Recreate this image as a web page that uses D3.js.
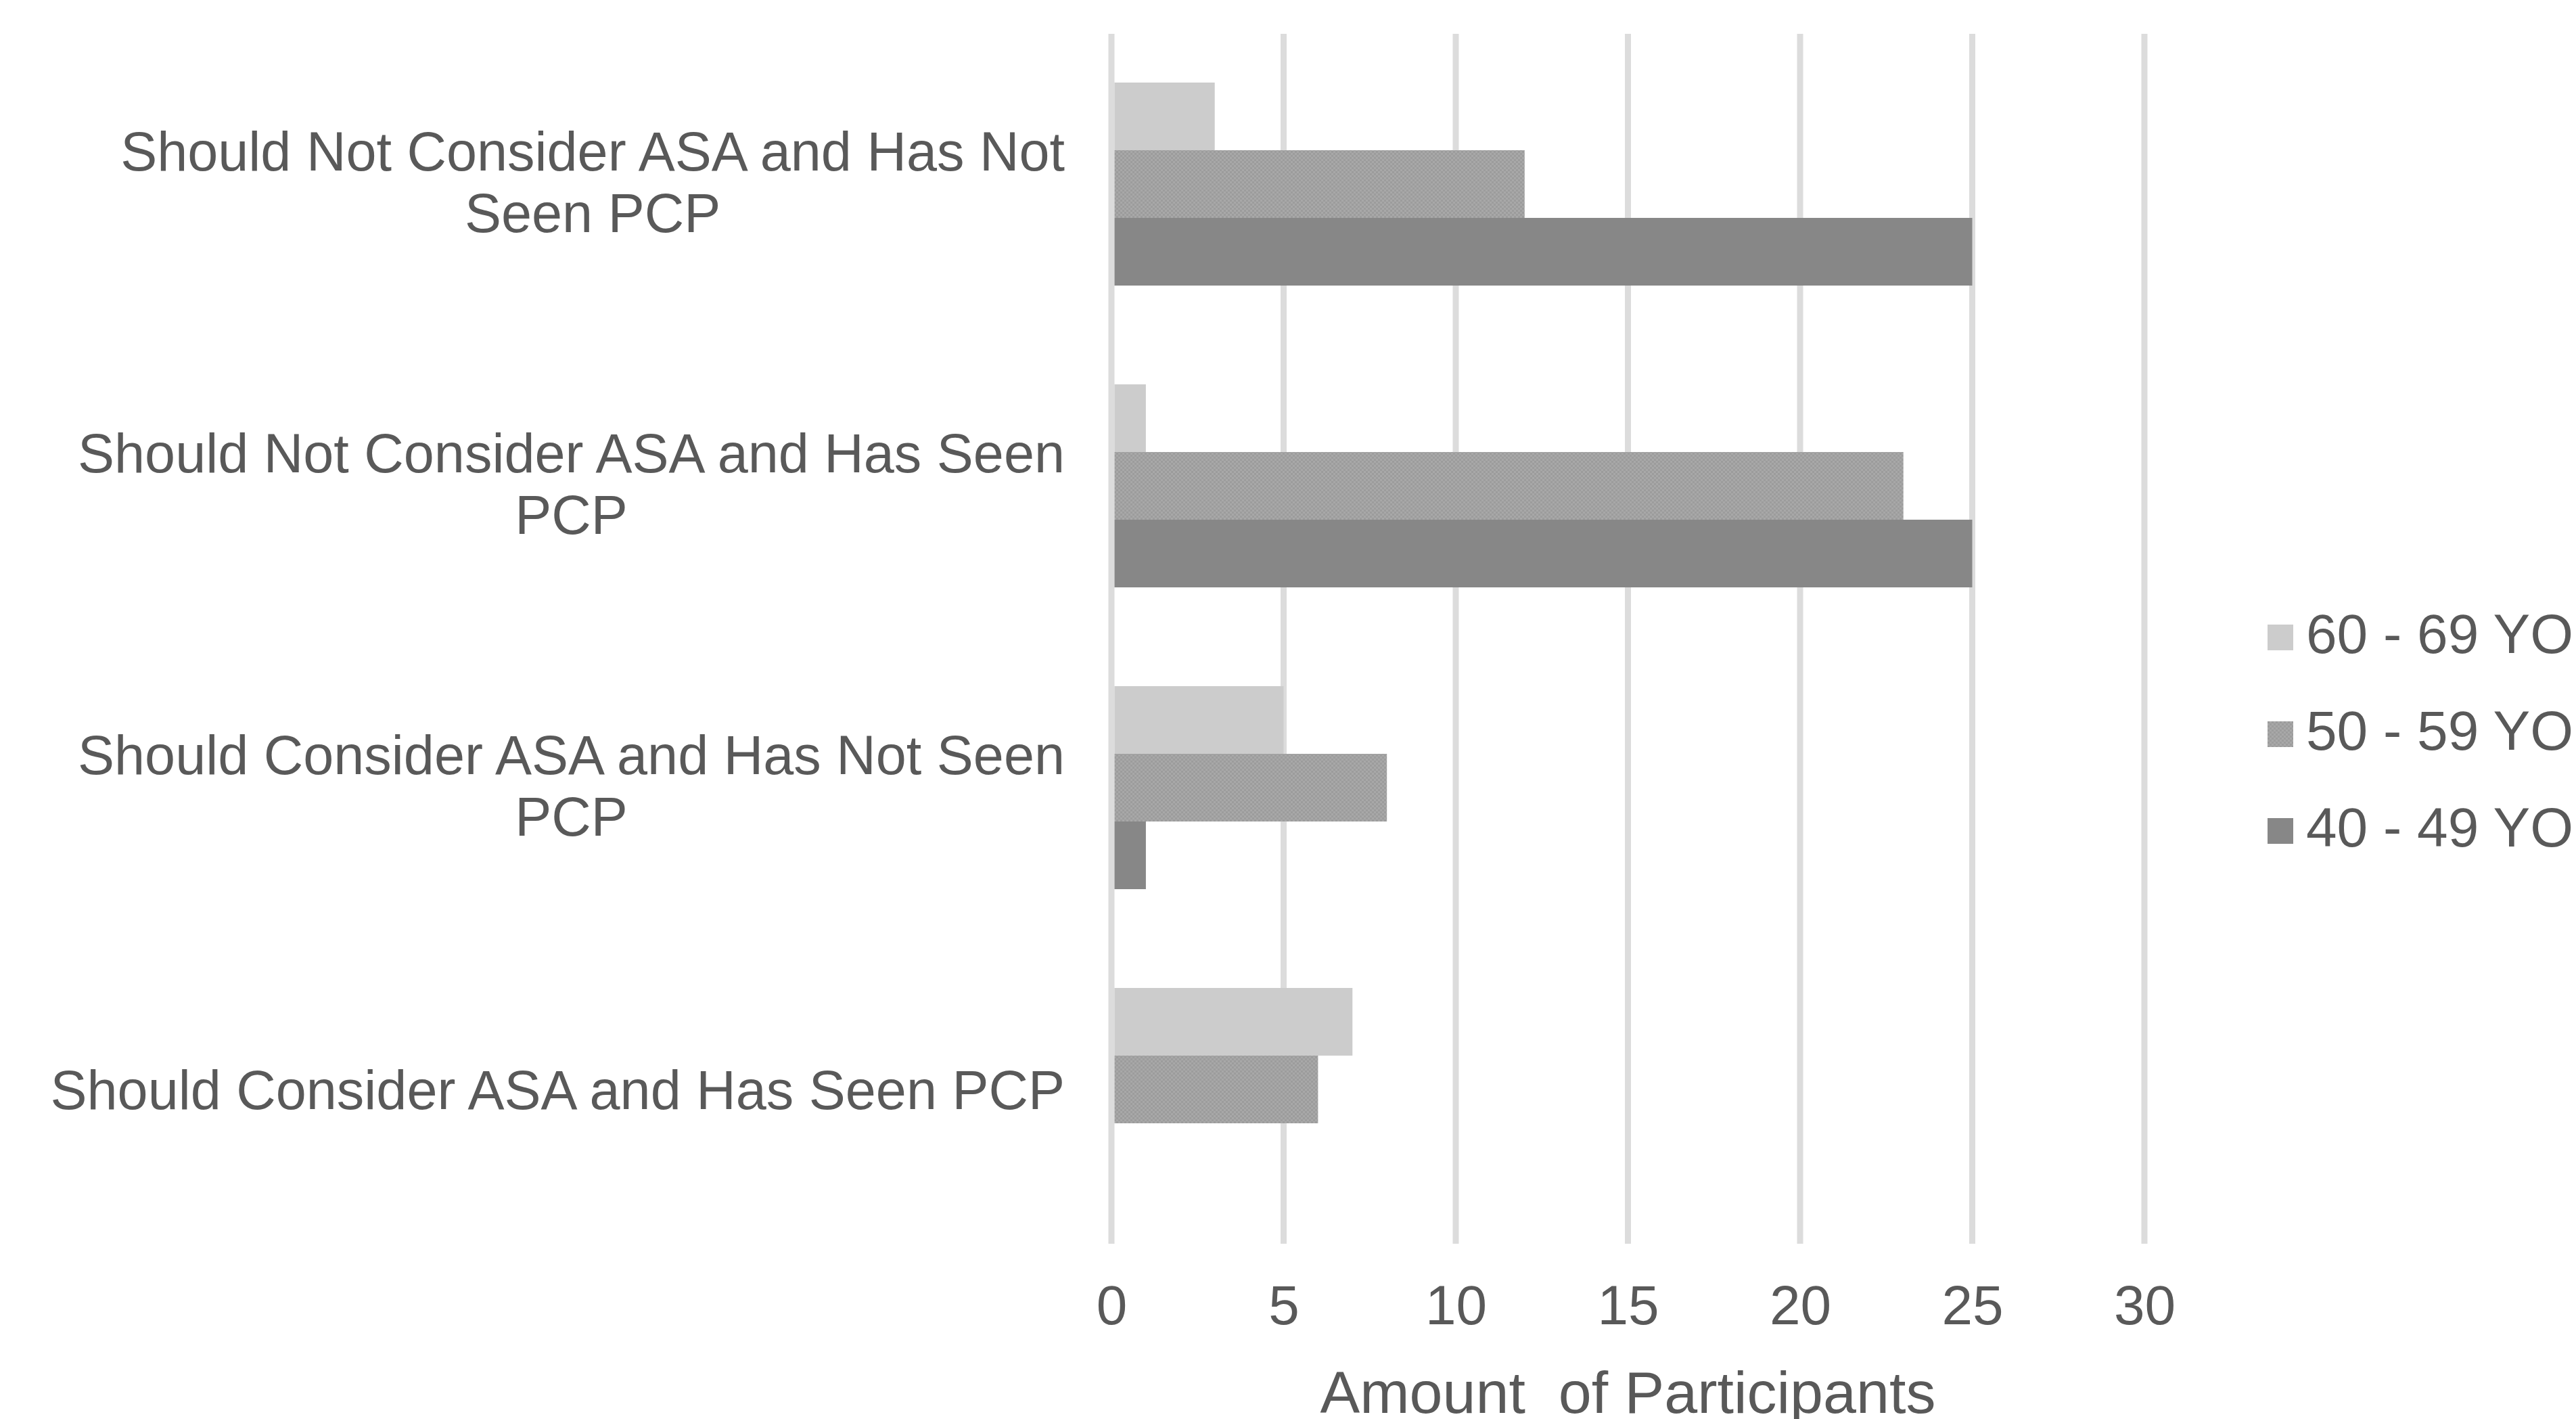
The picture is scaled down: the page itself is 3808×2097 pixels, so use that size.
<!DOCTYPE html>
<html>
<head>
<meta charset="utf-8">
<script src="https://cdn.jsdelivr.net/npm/d3@7"></script>
<style>
  html, body { margin: 0; padding: 0; background: #fff; }
  svg { display: block; font-family: "Liberation Sans", Arial, sans-serif; }
</style>
</head>
<body>
<div id="chart"></div>
<script>
// categories, top to bottom; each label is split into the lines shown
const categories = [
  "Should Not Consider ASA and Has Not Seen PCP",
  "Should Not Consider ASA and Has Seen PCP",
  "Should Consider ASA and Has Not Seen PCP",
  "Should Consider ASA and Has Seen PCP"
];
const categoryLines = [
  ["Should Not Consider ASA and Has Not", "Seen PCP"],
  ["Should Not Consider ASA and Has Seen", "PCP"],
  ["Should Consider ASA and Has Not Seen", "PCP"],
  ["Should Consider ASA and Has Seen PCP"]
];

const seriesNames = ["60 - 69 YO", "50 - 59 YO", "40 - 49 YO"];
const age60to69 = [3, 1, 5, 7];
const age50to59 = [12, 23, 8, 6];
const age40to49 = [25, 25, 1, 0];
const seriesValues = [age60to69, age50to59, age40to49];

const xTicks = [0, 5, 10, 15, 20, 25, 30];
const xTitle = "Amount  of Participants";

const W = 3808, H = 2097;
const textColor = "#595959";
const fills = ["#cccccc", "url(#checker)", "#878787"];

const svg = d3.select("#chart").append("svg")
  .attr("width", W)
  .attr("height", H);

// checker texture for the middle series
const pat = svg.append("defs").append("pattern")
  .attr("id", "checker")
  .attr("patternUnits", "userSpaceOnUse")
  .attr("width", 6).attr("height", 6);
pat.append("rect").attr("width", 6).attr("height", 6).attr("fill", "#a8a8a8");
pat.append("rect").attr("width", 3).attr("height", 3).attr("fill", "#9c9c9c");
pat.append("rect").attr("x", 3).attr("y", 3).attr("width", 3).attr("height", 3).attr("fill", "#9c9c9c");

const x = d3.scaleLinear().domain([0, 30]).range([1643, 3170]);
const y0 = d3.scaleBand().domain(categories).range([49, 1833]);
const y1 = d3.scaleBand().domain(seriesNames).range([0, y0.bandwidth()]).paddingOuter(0.73);

// gridlines
svg.append("g").selectAll("line")
  .data(xTicks)
  .join("line")
  .attr("x1", d => x(d)).attr("x2", d => x(d))
  .attr("y1", 50).attr("y2", 1838)
  .attr("stroke", "#dcdcdc")
  .attr("stroke-width", 9);

// bars
const groups = svg.append("g").selectAll("g")
  .data(categories)
  .join("g")
  .attr("transform", d => "translate(0," + y0(d) + ")");

seriesNames.forEach((s, si) => {
  groups.append("rect")
    .attr("x", x(0) + 4.5)
    .attr("y", y1(s))
    .attr("width", (d, i) => Math.max(0, x(seriesValues[si][i]) - x(0) - 4.5))
    .attr("height", y1.bandwidth())
    .attr("fill", fills[si]);
});

// x axis tick labels
const xAxis = svg.append("g")
  .attr("transform", "translate(0,1838)")
  .call(d3.axisBottom(x).tickValues(xTicks).tickSize(0).tickPadding(61));
xAxis.select(".domain").remove();
xAxis.selectAll("text")
  .attr("font-size", 82)
  .attr("font-family", "Liberation Sans, Arial, sans-serif")
  .attr("fill", textColor);

svg.append("text")
  .attr("x", (x(0) + x(30)) / 2)
  .attr("y", 2088)
  .attr("text-anchor", "middle")
  .attr("font-size", 88)
  .attr("fill", textColor)
  .style("white-space", "pre")
  .text(xTitle);

// category labels: lines centred, block right aligned to the axis
const labelRight = 1574;
const labelG = svg.append("g");
categories.forEach((c, i) => {
  const lines = categoryLines[i];
  const mid = y0(c) + y0.bandwidth() / 2;
  const t = labelG.append("text")
    .attr("text-anchor", "middle")
    .attr("font-size", 81)
    .attr("fill", textColor);
  const first = lines.length === 1 ? mid + 29 : mid - 20;
  const spans = lines.map((ln, k) => t.append("tspan").attr("y", first + k * 91).text(ln));
  const widest = d3.max(spans, sp => sp.node().getComputedTextLength());
  spans.forEach(sp => sp.attr("x", labelRight - widest / 2));
});

// legend
const legend = svg.append("g").selectAll("g")
  .data(seriesNames)
  .join("g")
  .attr("transform", (d, i) => "translate(3352," + (923 + i * 143) + ")");
legend.append("rect")
  .attr("width", 38).attr("height", 38)
  .attr("fill", (d, i) => fills[i]);
legend.append("text")
  .attr("x", 57)
  .attr("y", 42)
  .attr("font-size", 82)
  .attr("fill", textColor)
  .text(d => d);
</script>
</body>
</html>
